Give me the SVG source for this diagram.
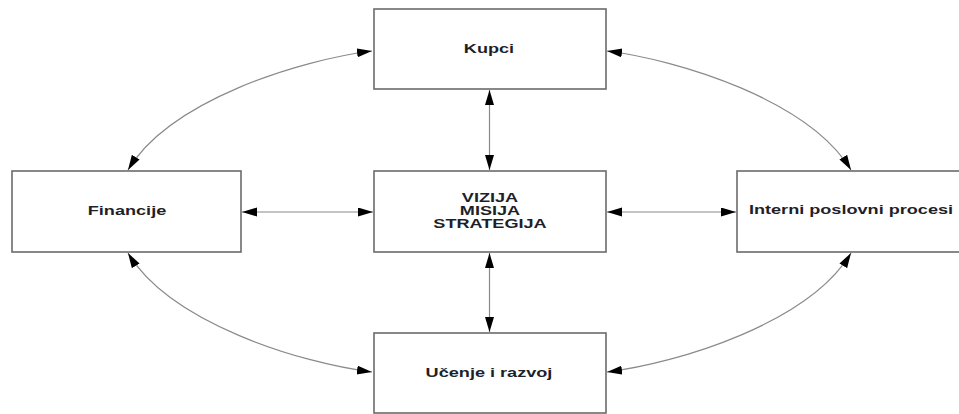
<svg xmlns="http://www.w3.org/2000/svg" width="959" height="414" viewBox="0 0 959 414">
<style>
.box{fill:#fff;stroke:#6b6b6b;stroke-width:1.6}
.lbl{font-family:"Liberation Sans",Arial,sans-serif;font-weight:bold;font-size:12.5px;fill:#1f1f2a;text-anchor:middle}
.con{fill:none;stroke:#8a8a8a;stroke-width:1.2;marker-start:url(#ah);marker-end:url(#ah)}
</style>
<defs>
<marker id="ah" markerUnits="userSpaceOnUse" markerWidth="15" markerHeight="10" refX="15" refY="4.5" orient="auto-start-reverse">
<path d="M0,0 L15,4.5 L0,9 z" fill="#000"/>
</marker>
</defs>
<rect width="959" height="414" fill="#fff"/>
<g id="connectors">
<line class="con" x1="242" y1="212" x2="373" y2="212"/>
<line class="con" x1="607" y1="212" x2="736" y2="212"/>
<line class="con" x1="489.5" y1="90" x2="489.5" y2="170"/>
<line class="con" x1="489.5" y1="253" x2="489.5" y2="332"/>
<path class="con" d="M372,51 C300,60 170,100 128,170"/>
<path class="con" d="M607,51 C679,60 809,100 851,170"/>
<path class="con" d="M128,253 C170,323 300,363 372,372"/>
<path class="con" d="M851,253 C809,323 679,363 607,372"/>
</g>
<g id="kupci">
<rect class="box" x="374" y="9" width="232" height="80"/>
<text class="lbl" transform="translate(489,53) scale(1.45,1)">Kupci</text>
</g>
<g id="vizija">
<rect class="box" x="374" y="171" width="232" height="81"/>
<text class="lbl" transform="translate(490,202) scale(1.45,1)">VIZIJA</text>
<text class="lbl" transform="translate(490,215) scale(1.45,1)">MISIJA</text>
<text class="lbl" transform="translate(490,228) scale(1.45,1)">STRATEGIJA</text>
</g>
<g id="financije">
<rect class="box" x="12" y="171" width="229" height="81"/>
<text class="lbl" transform="translate(127,215) scale(1.45,1)">Financije</text>
</g>
<g id="interni">
<rect class="box" x="737" y="171" width="232" height="81"/>
<text class="lbl" transform="translate(851,214) scale(1.45,1)">Interni poslovni procesi</text>
</g>
<g id="ucenje">
<rect class="box" x="374" y="333" width="232" height="80"/>
<text class="lbl" transform="translate(489,377) scale(1.45,1)">Učenje i razvoj</text>
</g>
</svg>
